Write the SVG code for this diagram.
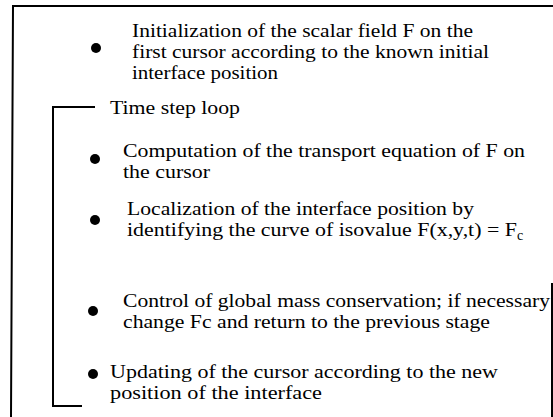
<svg xmlns="http://www.w3.org/2000/svg" width="553" height="417" viewBox="0 0 553 417">
<style>
text{font-family:"Liberation Serif","Times New Roman",serif;font-size:19.5px;fill:#000}
.ln{stroke:#000;stroke-width:2;fill:none}
.b{fill:#000}
</style>
<rect width="553" height="417" fill="#fff"/>
<g id="frame">
<polyline class="ln" points="553,6 13,6 11,417"/>
<line class="ln" x1="552" y1="283" x2="552" y2="417" stroke-width="1.5"/>
</g>
<g id="connectors">
<polyline class="ln" points="95,107 53,107 53,406 82,406"/>
</g>
<g id="step1">
<circle class="b" cx="96" cy="48" r="5"/>
<text x="132" y="37" textLength="341" lengthAdjust="spacingAndGlyphs">Initialization of the scalar field F on the</text>
<text x="132" y="58" textLength="357" lengthAdjust="spacingAndGlyphs">first cursor according to the known initial</text>
<text x="132" y="79" textLength="146" lengthAdjust="spacingAndGlyphs">interface position</text>
</g>
<g id="loop">
<text x="110" y="114" textLength="130" lengthAdjust="spacingAndGlyphs">Time step loop</text>
</g>
<g id="step2">
<circle class="b" cx="95" cy="159" r="5"/>
<text x="123" y="157" textLength="402" lengthAdjust="spacingAndGlyphs">Computation of the transport equation of F on</text>
<text x="123" y="178" textLength="87" lengthAdjust="spacingAndGlyphs">the cursor</text>
</g>
<g id="step3">
<circle class="b" cx="95" cy="220" r="5"/>
<text x="127" y="215" textLength="347" lengthAdjust="spacingAndGlyphs">Localization of the interface position by</text>
<text x="127" y="236"><tspan textLength="390" lengthAdjust="spacingAndGlyphs">identifying the curve of isovalue F(x,y,t) = F</tspan><tspan dy="4" font-size="14">c</tspan></text>
</g>
<g id="step4">
<circle class="b" cx="93" cy="311" r="5"/>
<text x="123" y="307" textLength="427" lengthAdjust="spacingAndGlyphs">Control of global mass conservation; if necessary</text>
<text x="123" y="328" textLength="367" lengthAdjust="spacingAndGlyphs">change Fc and return to the previous stage</text>
</g>
<g id="step5">
<circle class="b" cx="93" cy="374" r="5"/>
<text x="110" y="378" textLength="388" lengthAdjust="spacingAndGlyphs">Updating of the cursor according to the new</text>
<text x="110" y="399" textLength="212" lengthAdjust="spacingAndGlyphs">position of the interface</text>
</g>
</svg>
